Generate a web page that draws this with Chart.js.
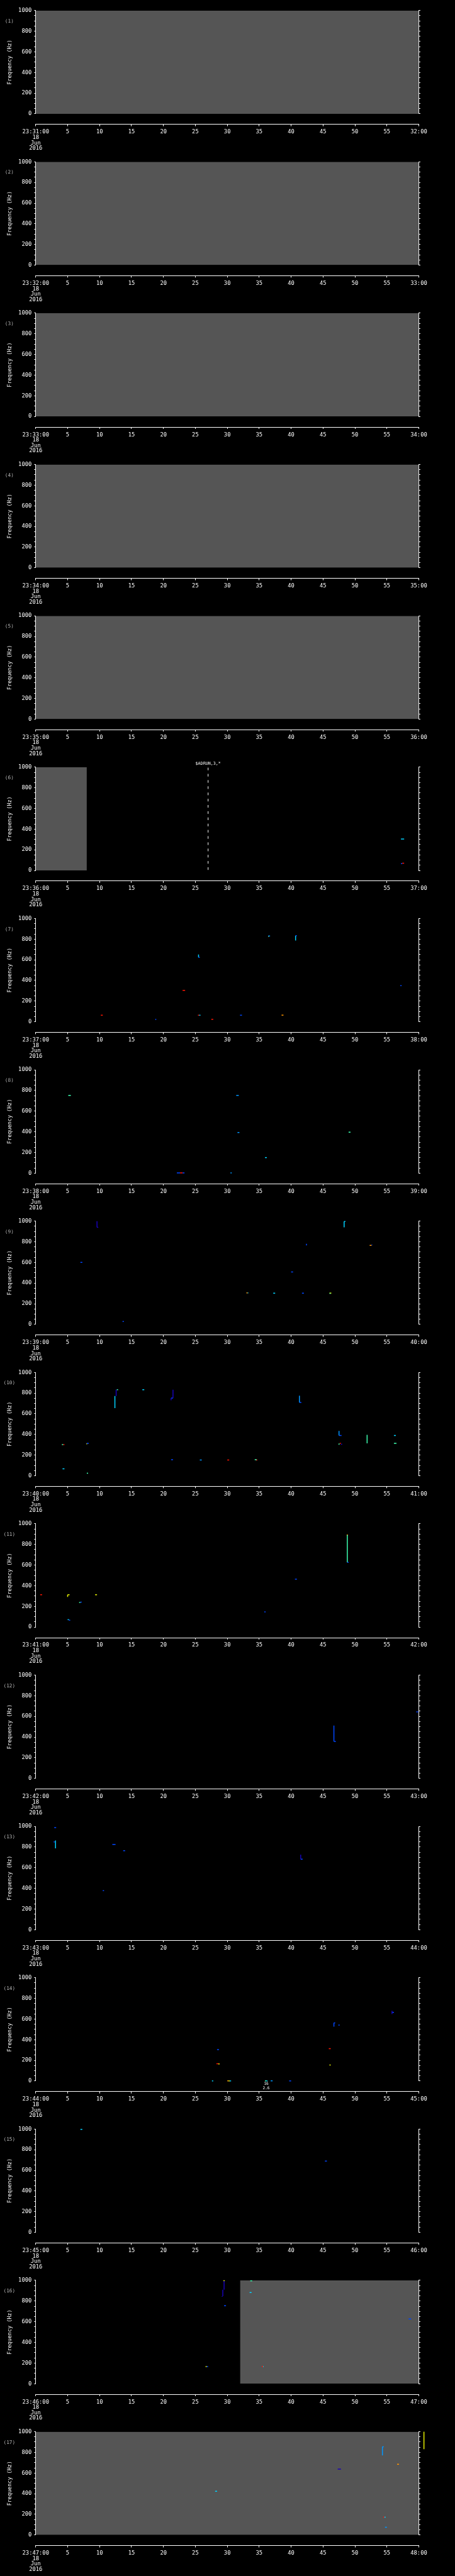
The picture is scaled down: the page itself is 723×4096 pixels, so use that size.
<!DOCTYPE html>
<html><head><meta charset="utf-8">
<script src="https://cdn.jsdelivr.net/npm/chart.js@4/dist/chart.umd.min.js"></script>
<style>
html,body{margin:0;padding:0;background:#000;overflow:hidden;}
#wrap{position:relative;width:723px;height:4096px;background:#000;overflow:hidden;}
canvas{position:absolute;left:0;}
</style></head><body><div id="wrap"></div>
<script>
// ---------- data ----------
const minuteStarts = ['23:31:00','23:32:00','23:33:00','23:34:00','23:35:00','23:36:00','23:37:00','23:38:00','23:39:00','23:40:00','23:41:00','23:42:00','23:43:00','23:44:00','23:45:00','23:46:00','23:47:00'];
const minuteEnds = ['32:00','33:00','34:00','35:00','36:00','37:00','38:00','39:00','40:00','41:00','42:00','43:00','44:00','45:00','46:00','47:00','48:00'];
const dateLines = ['18','Jun','2016'];
const secondTicks = [0,5,10,15,20,25,30,35,40,45,50,55,60];
const freqTicks = [0,200,400,600,800,1000];
const panelNames = ['(1)','(2)','(3)','(4)','(5)','(6)','(7)','(8)','(9)','(10)','(11)','(12)','(13)','(14)','(15)','(16)','(17)'];

// no-data spans [t0, t1] in seconds, per panel
const noDataSpans = [
  [[0,60]],[[0,60]],[[0,60]],[[0,60]],[[0,60]],
  [[0,8]],[],[],[],[],[],[],[],[],[],
  [[32,60]],
  [[0,60]]
];

// instrument events: [panel index, t, text]
const events = [[5, 27, '$ADRUN,3,*']];
// small text notes: [panel index, t, lines]
const notes = [[13, 36.1, ['16','2.6']]];

// spectral marks: [t0, t1, f0, f1, power level 0..7]
const marks6 = [[57.2,57.7,304,304,3],[57.2,57.4,66,66,1],[57.4,57.7,70,70,7]];
const marks7 = [[36.4,36.7,830,830,2],[36.4,36.5,826,826,5],[40.7,40.7,787,833,3],[40.7,40.9,833,833,1],
  [25.5,25.5,624,651,3],[25.5,25.7,624,624,1],[23.0,23.4,304,304,7],[57.1,57.3,350,350,1],
  [10.2,10.5,64,64,7],[18.8,18.8,18,28,1],[25.4,25.6,64,64,7],[25.6,25.8,64,64,3],
  [27.5,27.8,24,24,7],[32.0,32.3,63,63,1],[38.5,38.8,64,64,6]];
const marks8 = [[5.1,5.5,752,752,4],[31.4,31.8,752,752,2],[31.6,31.9,393,393,2],[49.0,49.3,396,396,4],
  [35.9,36.2,150,150,3],[22.1,22.6,2,2,1],[22.6,23.0,2,2,7],[23.0,23.3,2,2,1],[30.5,30.7,2,2,2]];
const marks9 = [[9.6,9.6,940,1000,0],[9.6,9.8,940,940,0],[48.3,48.3,940,997,3],[48.3,48.5,997,997,3],
  [42.4,42.4,765,780,1],[52.3,52.6,765,765,6],[52.6,52.7,770,770,1],[7.0,7.3,601,601,1],
  [40.0,40.3,508,508,1],[33.0,33.2,305,305,6],[33.2,33.3,305,305,3],[37.2,37.5,303,303,3],
  [41.7,42.0,303,303,1],[46.0,46.3,303,303,5],[46.1,46.1,295,305,4],[13.6,13.8,29,29,1]];
const marks10 = [[4.1,4.3,302,302,4],[4.3,4.5,302,302,7],[8.0,8.0,305,313,5],[8.0,8.3,313,313,1],
  [4.2,4.5,67,67,3],[8.0,8.2,24,24,4],[12.4,12.4,654,772,3],[12.6,12.6,772,834,0],[12.7,12.9,832,832,4],
  [16.7,17.0,832,832,3],[21.5,21.5,752,832,0],[21.2,21.5,752,752,1],[21.2,21.2,731,752,0],
  [21.2,21.5,155,155,1],[25.7,26.0,153,153,2],[30.0,30.3,153,153,7],[34.3,34.6,155,155,4],[34.5,34.7,153,153,7],
  [41.3,41.3,710,775,2],[41.3,41.6,710,710,1],[47.5,47.5,390,434,2],[47.5,47.9,390,390,1],
  [47.5,47.5,300,312,4],[47.6,47.8,313,313,7],[47.8,48.0,305,305,0],[51.9,51.9,313,396,4],
  [56.1,56.4,390,390,3],[56.1,56.5,313,313,4],[60.7,61.0,313,313,7]];
const marks11 = [[0.7,1.0,313,313,7],[5.0,5.0,292,313,5],[5.0,5.3,313,313,5],[9.3,9.6,313,313,5],
  [6.8,7.0,238,238,4],[7.0,7.2,242,242,1],[5.0,5.2,72,72,3],[5.2,5.4,66,66,1],[35.8,36.0,147,147,1],
  [40.6,40.9,464,464,1],[48.8,48.8,627,891,4],[48.7,48.9,891,891,6],[48.8,49.0,627,627,1]];
const marks12 = [[46.7,46.7,357,511,1],[46.7,47.0,357,357,1],[59.6,59.9,644,644,1]];
const marks13 = [[2.9,3.2,989,989,1],[3.1,3.1,788,863,3],[2.8,3.0,850,850,1],[12.0,12.5,826,826,1],
  [13.7,14.0,764,764,1],[41.5,41.5,682,726,0],[41.5,41.8,682,682,1],[10.5,10.7,378,378,1]];
const marks14 = [[28.4,28.7,305,305,1],[28.3,28.6,168,168,7],[28.6,28.8,166,166,5],[27.6,27.8,2,2,3],
  [30.0,30.2,2,2,6],[30.2,30.4,2,2,5],[30.4,30.6,2,2,3],[35.9,36.1,2,2,4],[36.1,36.3,2,2,3],
  [36.8,37.1,2,2,2],[39.7,40.0,2,2,1],[45.9,46.2,313,313,7],[46.0,46.2,155,155,5],
  [46.7,46.7,527,563,1],[46.7,46.9,563,563,1],[47.4,47.6,542,542,1],[55.8,55.8,648,680,0],[55.8,56.1,665,665,1]];
const marks15 = [[7.0,7.3,997,997,3],[45.3,45.6,690,690,1]];
const marks16 = [[29.5,29.5,910,994,0],[29.3,29.3,848,910,0],[29.2,29.2,841,848,0],[29.4,29.6,996,996,5],
  [29.5,29.8,755,755,1],[26.6,26.8,166,166,5],[26.8,27.0,166,166,1],[33.6,33.9,996,996,4],
  [33.5,33.8,883,883,3],[35.4,35.6,166,166,7],[35.6,35.7,166,166,3],[58.4,58.8,627,627,1]];
const marks17 = [[54.3,54.3,771,854,2],[54.3,54.5,854,854,2],[56.6,56.9,685,685,6],[47.3,47.8,638,638,0],
  [28.1,28.4,424,424,3],[54.4,54.6,173,173,7],[54.6,54.8,173,173,3],[54.7,55.0,75,75,2],[60.8,60.8,831,1000,5]];
const marksByPanel = [[],[],[],[],[],marks6,marks7,marks8,marks9,marks10,marks11,marks12,marks13,marks14,marks15,marks16,marks17];

// colour map for power levels
const levelColors = ['#1800b8','#0046ff','#0096ff','#00d2ff','#3cffb0','#e6f000','#ff9600','#ff1400'];

// ---------- layout ----------
const S = 0.705;
const W = 723, H = 241;
const PERIOD = 341.3 * S;
const plotTop = 23.7 * S, plotH = 233 * S, plotL = 80.5 * S, plotR = 944 * S;
const gapH = 24 * S;
const FONT = 'DejaVu Sans Mono';
const wrap = document.getElementById('wrap');

function markDatasets(marks) {
  const out = [];
  for (let lv = 0; lv < levelColors.length; lv++) {
    const pts = [];
    marks.filter(m => m[4] === lv).forEach(m => {
      pts.push({x: m[0], y: m[2]}, {x: m[1], y: m[3]}, {x: m[1], y: null});
    });
    if (pts.length) out.push({
      type: 'line', data: pts, borderColor: levelColors[lv], borderWidth: 1.5,
      borderCapStyle: 'butt', pointRadius: 0, spanGaps: false, fill: false,
      tension: 0, clip: false, order: 0
    });
  }
  return out;
}

for (let k = 0; k < 17; k++) {
  const top = Math.round(k * PERIOD);
  const frac = k * PERIOD - top;
  const cv = document.createElement('canvas');
  cv.width = W; cv.height = H;
  cv.style.top = top + 'px';
  cv.style.width = W + 'px'; cv.style.height = H + 'px';
  wrap.appendChild(cv);

  const datasets = [];
  noDataSpans[k].forEach(sp => datasets.push({
    type: 'line', data: [{x: sp[0], y: 1000}, {x: sp[1], y: 1000}],
    fill: {value: 0}, backgroundColor: '#555555', borderWidth: 0,
    pointRadius: 0, order: 10
  }));
  datasets.push(...markDatasets(marksByPanel[k]));
  const evs = events.filter(e => e[0] === k);
  evs.forEach(e => datasets.push({
    type: 'line', data: [{x: e[1], y: 995}, {x: e[1], y: 0}],
    borderColor: '#ffffff', borderWidth: 1, borderDash: [4.2, 5.7],
    pointRadius: 0, fill: false, order: 1
  }));
  const nts = notes.filter(n => n[0] === k);

  const textPlugin = {
    id: 'texts',
    afterDraw(chart) {
      const ctx = chart.ctx, ca = chart.chartArea, xs = chart.scales.x;
      ctx.save();
      ctx.textAlign = 'center'; ctx.textBaseline = 'middle';
      ctx.fillStyle = '#b4b4b4';
      ctx.font = (11 * S).toFixed(2) + 'px "' + FONT + '"';
      ctx.fillText(panelNames[k], 21 * S, ca.top + 24.3 * S);
      ctx.fillStyle = '#ffffff';
      ctx.font = (9.5 * S).toFixed(2) + 'px "' + FONT + '"';
      evs.forEach(e => ctx.fillText(e[2], xs.getPixelForValue(e[1]), ca.top - 8 * S));
      ctx.font = (8.6 * S).toFixed(2) + 'px "' + FONT + '"';
      nts.forEach(n => n[2].forEach((line, i) =>
        ctx.fillText(line, xs.getPixelForValue(n[1]), ca.bottom + (6.4 + 10.3 * i) * S)));
      ctx.restore();
    }
  };

  new Chart(cv, {
    data: {datasets},
    options: {
      responsive: false, animation: false, devicePixelRatio: 1, events: [],
      layout: {padding: {top: plotTop + frac, left: 0, right: 0, bottom: 0}},
      plugins: {legend: {display: false}, tooltip: {enabled: false}},
      scales: {
        x: {
          type: 'linear', min: 0, max: 60, position: 'bottom', weight: 0,
          grid: {display: false}, border: {display: false}, ticks: {display: false},
          afterFit: s => { s.height = gapH; }
        },
        xt: {
          type: 'linear', min: 0, max: 60, position: 'bottom', weight: 1,
          afterBuildTicks: s => { s.ticks = secondTicks.map(v => ({value: v})); },
          ticks: {
            autoSkip: false, maxRotation: 0, minRotation: 0, color: '#ffffff', padding: 5,
            font: {family: FONT, size: 12.5 * S, lineHeight: 0.98},
            callback: v => v === 0 ? [minuteStarts[k], ...dateLines] : (v === 60 ? minuteEnds[k] : String(v))
          },
          grid: {display: true, drawOnChartArea: false, color: '#ffffff', tickLength: 4 * S, lineWidth: 1},
          border: {display: true, color: '#ffffff', width: 1},
          afterFit: s => { s.height = H - (plotTop + frac) - plotH - gapH; }
        },
        y: {
          type: 'linear', min: 0, max: 1000, position: 'left',
          ticks: {
            stepSize: 50, autoSkip: false, color: '#ffffff', padding: 4,
            font: {family: FONT, size: 12.5 * S},
            callback: v => freqTicks.includes(v) ? String(v) : ''
          },
          grid: {display: true, drawOnChartArea: false, color: '#ffffff', tickLength: 3.5 * S},
          border: {display: true, color: '#ffffff', width: 1},
          title: {display: true, text: 'Frequency (Hz)', color: '#ffffff',
            font: {family: FONT, size: 12 * S, lineHeight: 1.2}, padding: {top: 11.1, bottom: 0}},
          afterFit: s => { s.width = plotL; }
        },
        y2: {
          type: 'linear', min: 0, max: 1000, position: 'right',
          ticks: {display: false, stepSize: 50, autoSkip: false},
          grid: {display: true, drawOnChartArea: false, color: '#ffffff', tickLength: 3.5 * S},
          border: {display: true, color: '#ffffff', width: 1},
          afterFit: s => { s.width = W - plotR; }
        }
      }
    },
    plugins: [textPlugin]
  });
}
</script></body></html>
